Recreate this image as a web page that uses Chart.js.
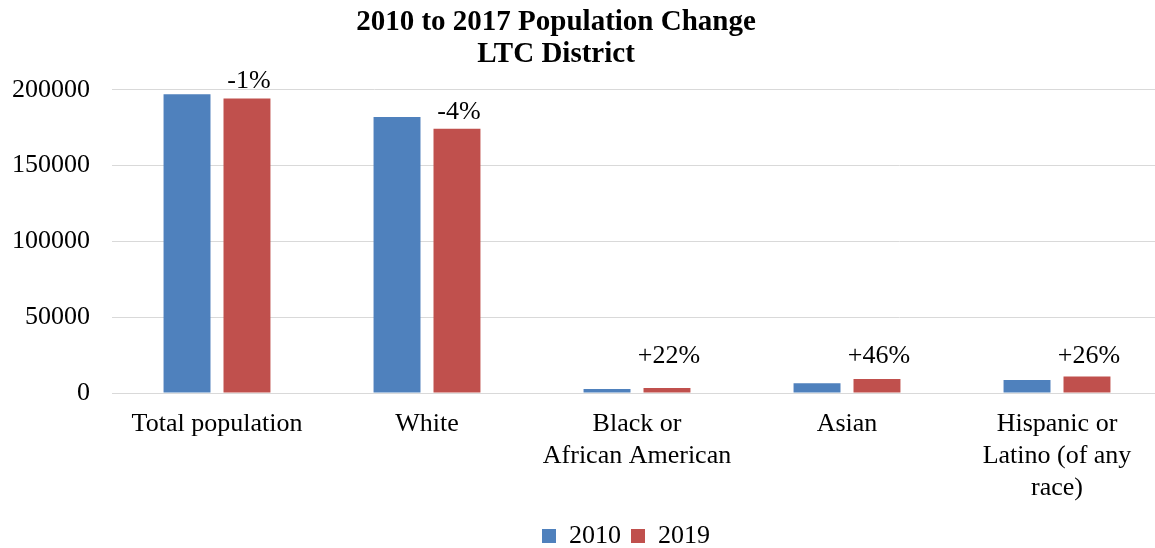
<!DOCTYPE html>
<html>
<head>
<meta charset="utf-8">
<script src="https://cdn.jsdelivr.net/npm/chart.js@4"></script>
<style>
  html, body { margin: 0; padding: 0; background: #fff; overflow: hidden; }
</style>
</head>
<body>
<canvas id="popChart" width="1162" height="548"></canvas>
<script>
// LTC District population by race, 2010 vs 2019
var categories = [
  'Total population',
  'White',
  ['Black or', 'African American'],
  'Asian',
  ['Hispanic or', 'Latino (of any', 'race)']
];
var pop2010 = [197000, 182000, 2700, 6400, 8600];
var pop2019 = [194300, 174300, 3300, 9350, 10850];
var changeLabels = ['-1%', '-4%', '+22%', '+46%', '+26%'];
var yTicks = [0, 50000, 100000, 150000, 200000];

var serif = '"Liberation Serif", "Times New Roman", serif';
Chart.defaults.font.family = serif;
Chart.defaults.color = '#000';

// percent change printed over the 2019 bars
var changeLabelPlugin = {
  id: 'changeLabels',
  afterDatasetsDraw: function(chart) {
    var ctx = chart.ctx;
    var yScale = chart.scales.y;
    var meta = chart.getDatasetMeta(1);
    ctx.save();
    ctx.font = '26px ' + serif;
    ctx.fillStyle = '#000';
    ctx.textAlign = 'center';
    ctx.textBaseline = 'alphabetic';
    meta.data.forEach(function(bar, i) {
      var y = Math.min(bar.y - 10, yScale.getPixelForValue(20000));
      ctx.fillText(changeLabels[i], bar.x + 2, y);
    });
    ctx.restore();
  }
};

// title and legend sit off the canvas centre
var blockShift = {
  id: 'blockShift',
  afterLayout: function(chart) {
    chart.titleBlock.left -= 25;
    chart.titleBlock.right -= 25;
    chart.legend.left += 45;
    chart.legend.right += 45;
    chart.legend.top += 2;
    chart.legend.bottom += 2;
  }
};

var ctx = document.getElementById('popChart').getContext('2d');
var chart = new Chart(ctx, {
  type: 'bar',
  data: {
    labels: categories,
    datasets: [{
      label: '2010',
      backgroundColor: '#4F81BD',
      data: pop2010,
      categoryPercentage: 0.571,
      barPercentage: 0.783
    }, {
      label: '2019',
      backgroundColor: '#C0504D',
      data: pop2019,
      categoryPercentage: 0.571,
      barPercentage: 0.783
    }]
  },
  options: {
    responsive: false,
    animation: false,
    layout: { padding: { left: 0, right: 0, top: 0, bottom: -9 } },
    plugins: {
      title: {
        display: true,
        text: ['2010 to 2017 Population Change', 'LTC District'],
        color: '#000',
        font: { size: 29, weight: 'bold', lineHeight: 1.1 },
        padding: { top: 7, bottom: 19 }
      },
      legend: {
        position: 'bottom',
        labels: {
          boxWidth: 14,
          boxHeight: 14,
          padding: 10,
          color: '#000',
          font: { size: 26 }
        }
      },
      tooltip: { enabled: false }
    },
    scales: {
      x: {
        grid: { display: false },
        border: { color: '#d9d9d9', width: 1 },
        ticks: {
          padding: 7,
          color: '#000',
          maxRotation: 0,
          autoSkip: false,
          font: { size: 26, lineHeight: 1.23 }
        }
      },
      y: {
        min: 0,
        max: 200000,
        afterFit: function(scale) { scale.width = 112; },
        afterBuildTicks: function(scale) {
          scale.ticks = yTicks.map(function(v) { return { value: v }; });
        },
        grid: { color: '#d9d9d9', lineWidth: 1, drawTicks: false },
        border: { display: false },
        ticks: {
          padding: 22,
          color: '#000',
          font: { size: 26 },
          callback: function(v) { return String(v); }
        }
      }
    }
  },
  plugins: [changeLabelPlugin, blockShift]
});
</script>
</body>
</html>
